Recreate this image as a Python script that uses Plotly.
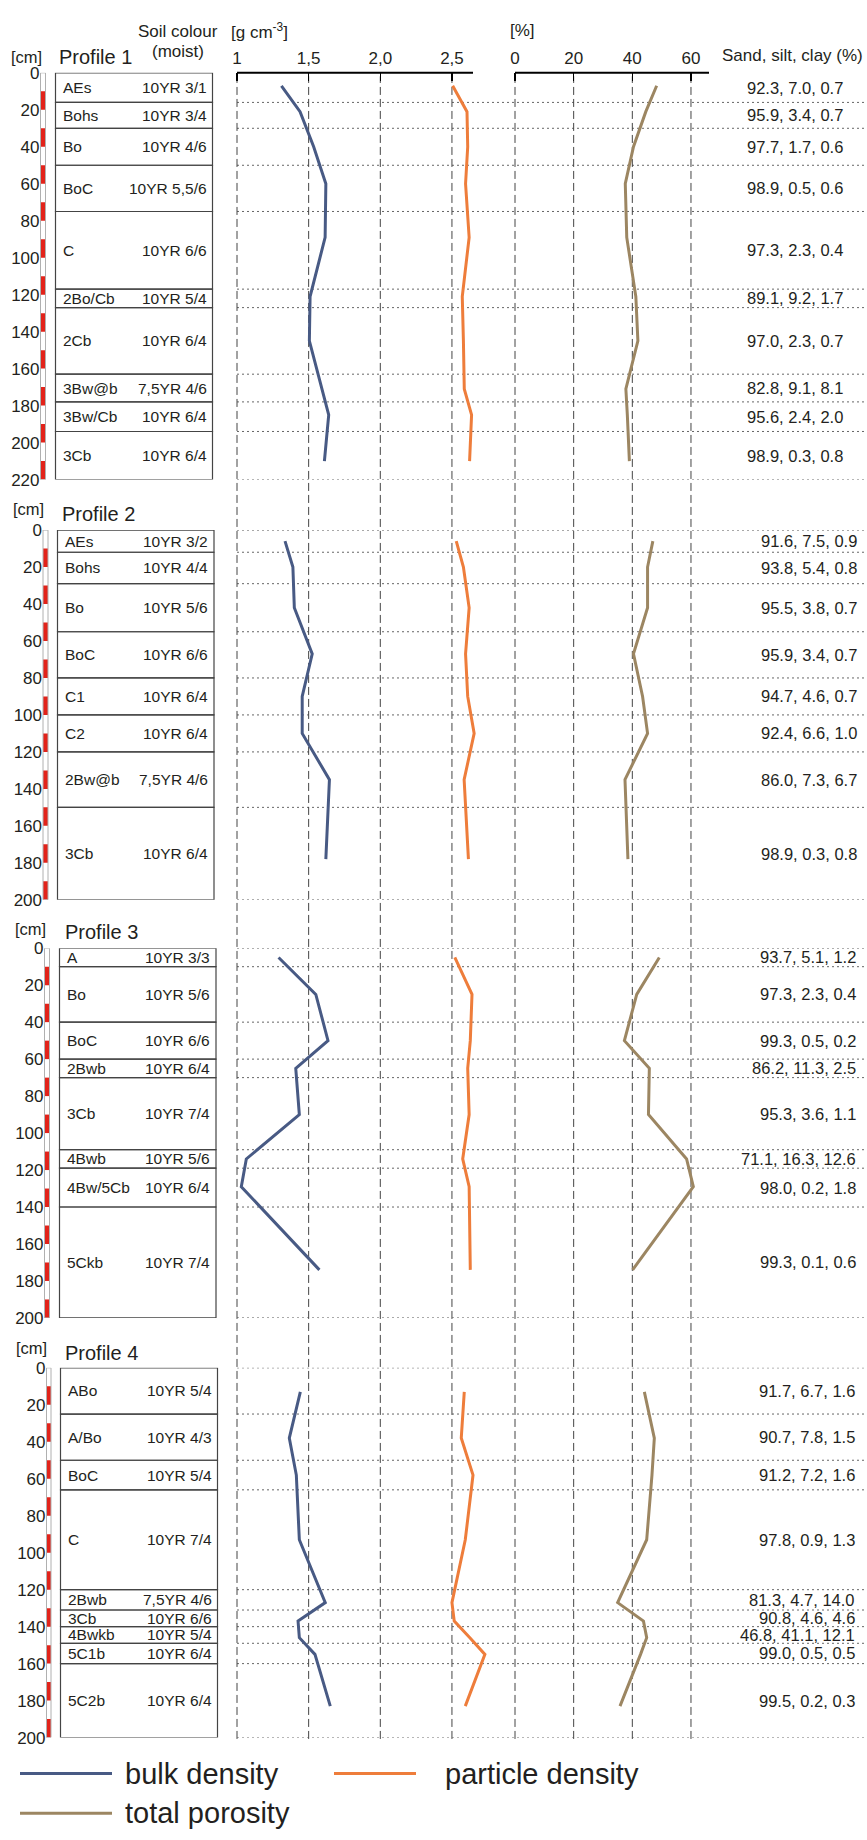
import plotly.graph_objects as go

W, H = 867, 1840
FONT = "Liberation Sans, Arial, sans-serif"
TXT = "#231f20"
C_BULK = "#485a84"
C_PART = "#ee7d3b"
C_POR = "#9c8662"

# ---------------- data ----------------
p1_bounds = [0, 16, 30, 50, 75, 117, 127, 163, 178, 194, 220]
p1_horizons = ["AEs", "Bohs", "Bo", "BoC", "C", "2Bo/Cb", "2Cb", "3Bw@b", "3Bw/Cb", "3Cb"]
p1_colours = ["10YR 3/1", "10YR 3/4", "10YR 4/6", "10YR 5,5/6", "10YR 6/6", "10YR 5/4",
              "10YR 6/4", "7,5YR 4/6", "10YR 6/4", "10YR 6/4"]
p1_texture = ["92.3, 7.0, 0.7", "95.9, 3.4, 0.7", "97.7, 1.7, 0.6", "98.9, 0.5, 0.6",
              "97.3, 2.3, 0.4", "89.1, 9.2, 1.7", "97.0, 2.3, 0.7", "82.8, 9.1, 8.1",
              "95.6, 2.4, 2.0", "98.9, 0.3, 0.8"]
p1_depth = [7, 21, 40, 60, 89, 121, 145, 171, 185, 210]
p1_bulk = [1.31, 1.44, 1.535, 1.62, 1.615, 1.51, 1.505, 1.59, 1.64, 1.61]
p1_particle = [2.505, 2.605, 2.61, 2.595, 2.62, 2.572, 2.58, 2.586, 2.637, 2.623]
p1_porosity = [48.3, 44.6, 40.4, 37.6, 38.1, 41.2, 41.9, 37.8, 38.3, 39.0]

p2_bounds = [0, 12, 29, 55, 80, 100, 120, 150, 200]
p2_horizons = ["AEs", "Bohs", "Bo", "BoC", "C1", "C2", "2Bw@b", "3Cb"]
p2_colours = ["10YR 3/2", "10YR 4/4", "10YR 5/6", "10YR 6/6", "10YR 6/4", "10YR 6/4",
              "7,5YR 4/6", "10YR 6/4"]
p2_texture = ["91.6, 7.5, 0.9", "93.8, 5.4, 0.8", "95.5, 3.8, 0.7", "95.9, 3.4, 0.7",
              "94.7, 4.6, 0.7", "92.4, 6.6, 1.0", "86.0, 7.3, 6.7", "98.9, 0.3, 0.8"]
p2_depth = [6, 20, 42, 67, 90, 110, 135, 178]
p2_bulk = [1.335, 1.39, 1.40, 1.525, 1.455, 1.455, 1.645, 1.62]
p2_particle = [2.53, 2.58, 2.62, 2.595, 2.61, 2.655, 2.585, 2.615]
p2_porosity = [47.0, 45.2, 45.2, 40.4, 43.5, 45.2, 37.5, 38.5]

p3_bounds = [0, 10, 40, 60, 70, 109, 119, 140, 200]
p3_horizons = ["A", "Bo", "BoC", "2Bwb", "3Cb", "4Bwb", "4Bw/5Cb", "5Ckb"]
p3_colours = ["10YR 3/3", "10YR 5/6", "10YR 6/6", "10YR 6/4", "10YR 7/4", "10YR 5/6",
              "10YR 6/4", "10YR 7/4"]
p3_texture = ["93.7, 5.1, 1.2", "97.3, 2.3, 0.4", "99.3, 0.5, 0.2", "86.2, 11.3, 2.5",
              "95.3, 3.6, 1.1", "71.1, 16.3, 12.6", "98.0, 0.2, 1.8", "99.3, 0.1, 0.6"]
p3_depth = [5, 25, 50, 65, 90, 114, 129, 174]
p3_bulk = [1.29, 1.55, 1.635, 1.41, 1.435, 1.065, 1.03, 1.575]
p3_particle = [2.52, 2.64, 2.628, 2.61, 2.62, 2.575, 2.62, 2.628]
p3_porosity = [49.2, 41.5, 37.3, 45.8, 45.5, 58.5, 60.8, 40.1]

p4_bounds = [0, 25, 50, 66, 120, 131, 140, 149, 160, 200]
p4_horizons = ["ABo", "A/Bo", "BoC", "C", "2Bwb", "3Cb", "4Bwkb", "5C1b", "5C2b"]
p4_colours = ["10YR 5/4", "10YR 4/3", "10YR 5/4", "10YR 7/4", "7,5YR 4/6", "10YR 6/6",
              "10YR 5/4", "10YR 6/4", "10YR 6/4"]
p4_texture = ["91.7, 6.7, 1.6", "90.7, 7.8, 1.5", "91.2, 7.2, 1.6", "97.8, 0.9, 1.3",
              "81.3, 4.7, 14.0", "90.8, 4.6, 4.6", "46.8, 41.1, 12.1", "99.0, 0.5, 0.5",
              "99.5, 0.2, 0.3"]
p4_depth = [13, 38, 58, 93, 127, 137, 146, 155, 183]
p4_bulk = [1.442, 1.365, 1.414, 1.435, 1.616, 1.426, 1.435, 1.544, 1.651]
p4_particle = [2.586, 2.565, 2.647, 2.593, 2.50, 2.516, 2.625, 2.73, 2.593]
p4_porosity = [44.1, 47.5, 46.7, 44.9, 35.0, 43.8, 44.9, 42.8, 35.8]

profile_names = ["Profile 1", "Profile 2", "Profile 3", "Profile 4"]
density_ticks = [1, 1.5, 2.0, 2.5]
density_ticktext = ["1", "1,5", "2,0", "2,5"]
porosity_ticks = [0, 20, 40, 60]
porosity_ticktext = ["0", "20", "40", "60"]
legend_names = ["bulk density", "particle density", "total porosity"]

profiles = [
    dict(bounds=p1_bounds, hz=p1_horizons, col=p1_colours, tex=p1_texture,
         depth=p1_depth, bulk=p1_bulk, part=p1_particle, por=p1_porosity),
    dict(bounds=p2_bounds, hz=p2_horizons, col=p2_colours, tex=p2_texture,
         depth=p2_depth, bulk=p2_bulk, part=p2_particle, por=p2_porosity),
    dict(bounds=p3_bounds, hz=p3_horizons, col=p3_colours, tex=p3_texture,
         depth=p3_depth, bulk=p3_bulk, part=p3_particle, por=p3_porosity),
    dict(bounds=p4_bounds, hz=p4_horizons, col=p4_colours, tex=p4_texture,
         depth=p4_depth, bulk=p4_bulk, part=p4_particle, por=p4_porosity),
]

# ---------------- layout geometry (pixels) ----------------
PXCM = 1.868
geo = [
    dict(top=64.5, ruler=(40.5, 45.5), box=(55.5, 212.5), tex_r=845, title=(57, 49), cm=48),
    dict(top=526.5, ruler=(43, 48), box=(57.5, 214), tex_r=859, title=(60, 510), cm=505),
    dict(top=949, ruler=(44.5, 49.5), box=(59.5, 216), tex_r=858, title=(62.5, 933), cm=930),
    dict(top=1373, ruler=(46.5, 51), box=(60.5, 217.5), tex_r=857, title=(62.5, 1358), cm=1353),
]


def px(x):
    return x / W


def py(y):
    return 1 - y / H


# density axis: 1 -> 237px, 143.3 px per unit
D0, DS = 237, 143.3
dens_dom = (228, 505)
dens_rng = [1 + (dens_dom[0] - D0) / DS, 1 + (dens_dom[1] - D0) / DS]
# porosity axis: 0 -> 515px, 2.933 px per unit
P0, PS = 515, 2.933
por_dom = (506, 735)
por_rng = [(por_dom[0] - P0) / PS, (por_dom[1] - P0) / PS]

fig = go.Figure()
shapes = []
annotations = []

layout = dict(
    width=W, height=H, margin=dict(l=0, r=0, t=0, b=0),
    paper_bgcolor="white", plot_bgcolor="rgba(0,0,0,0)",
    showlegend=False,
    font=dict(family=FONT, color=TXT, size=17),
)

layout["xaxis"] = dict(domain=[px(dens_dom[0]), px(dens_dom[1])], range=dens_rng,
                       anchor="y", side="top", showgrid=False, zeroline=False,
                       showline=False, ticks="inside", ticklen=8, tickwidth=1.5,
                       tickcolor="black", tickvals=density_ticks, ticktext=density_ticktext,
                       tickfont=dict(size=17, color=TXT), ticklabelstandoff=4)
layout["xaxis2"] = dict(domain=[px(por_dom[0]), px(por_dom[1])], range=por_rng,
                        anchor="y", side="top", showgrid=False, zeroline=False,
                        showline=False, ticks="inside", ticklen=8, tickwidth=1.5,
                        tickcolor="black", tickvals=porosity_ticks, ticktext=porosity_ticktext,
                        tickfont=dict(size=17, color=TXT), ticklabelstandoff=4)

for k, (p, g) in enumerate(zip(profiles, geo)):
    n = k + 1
    yname = "yaxis" if n == 1 else f"yaxis{n}"
    yref = "y" if n == 1 else f"y{n}"
    dmax = p["bounds"][-1]
    top = g["top"]
    bot = top + dmax * PXCM
    layout[yname] = dict(domain=[py(bot), py(top)], range=[dmax, 0], autorange=False,
                         anchor="free", position=px(g["ruler"][0] - 1),
                         showgrid=False, zeroline=False, showline=False, ticks="",
                         tickvals=list(range(0, dmax + 1, 20)),
                         tickfont=dict(size=17, color=TXT))

    # traces
    fig.add_trace(go.Scatter(x=p["bulk"], y=p["depth"], mode="lines", xaxis="x", yaxis=yref,
                             line=dict(color=C_BULK, width=3), name=legend_names[0]))
    fig.add_trace(go.Scatter(x=p["part"], y=p["depth"], mode="lines", xaxis="x", yaxis=yref,
                             line=dict(color=C_PART, width=3), name=legend_names[1]))
    fig.add_trace(go.Scatter(x=p["por"], y=p["depth"], mode="lines", xaxis="x2", yaxis=yref,
                             line=dict(color=C_POR, width=3), name=legend_names[2]))

    # ruler
    r0, r1 = g["ruler"]
    for s in range(10, dmax, 20):
        shapes.append(dict(type="rect", xref="paper", yref=yref, x0=px(r0), x1=px(r1),
                           y0=s, y1=s + 10, fillcolor="#e2231a", line=dict(width=0)))
    shapes.append(dict(type="rect", xref="paper", yref=yref, x0=px(r0), x1=px(r1),
                       y0=0, y1=dmax, line=dict(color="#b0b0b0", width=1)))

    # horizon boxes + labels + texture
    b0, b1 = g["box"]
    bnd = p["bounds"]
    for i in range(len(p["hz"])):
        shapes.append(dict(type="rect", xref="paper", yref=yref, x0=px(b0), x1=px(b1),
                           y0=bnd[i], y1=bnd[i + 1], line=dict(color="#444444", width=1.2)))
        mid = (bnd[i] + bnd[i + 1]) / 2
        annotations.append(dict(text=p["hz"][i], xref="paper", yref=yref, x=px(b0 + 5), y=mid,
                                xanchor="left", yanchor="middle", showarrow=False,
                                font=dict(size=15.5, color=TXT)))
        annotations.append(dict(text=p["col"][i], xref="paper", yref=yref, x=px(b1 - 4), y=mid,
                                xanchor="right", yanchor="middle", showarrow=False,
                                font=dict(size=15.5, color=TXT)))
        annotations.append(dict(text=p["tex"][i], xref="paper", yref=yref, x=px(g["tex_r"]), y=mid,
                                xanchor="right", yanchor="middle", showarrow=False,
                                font=dict(size=16.5, color=TXT)))

    # dotted horizon lines across the plot area
    for i, b in enumerate(bnd):
        if n == 1 and i == 0:
            continue
        shapes.append(dict(type="line", xref="paper", yref=yref, x0=px(D0), x1=1,
                           y0=b, y1=b, layer="below",
                           line=dict(color="#666666", width=1, dash="2px,3px")))

    # titles
    annotations.append(dict(text=profile_names[k], xref="paper", yref="paper",
                            x=px(g["title"][0]), y=py(g["title"][1]), xanchor="left",
                            yanchor="middle", showarrow=False, font=dict(size=20, color=TXT)))
    annotations.append(dict(text="[cm]", xref="paper", yref="paper",
                            x=px(r1 - 2), y=py(g["cm"]), xanchor="right",
                            yanchor="middle", showarrow=False, font=dict(size=16.5, color=TXT)))

# vertical dashed grid lines spanning all profiles
for v in density_ticks:
    shapes.append(dict(type="line", xref="x", yref="paper", x0=v, x1=v,
                       y0=py(1748), y1=py(68), layer="below",
                       line=dict(color="#444444", width=1, dash="8px,4px")))
for v in porosity_ticks:
    shapes.append(dict(type="line", xref="x2", yref="paper", x0=v, x1=v,
                       y0=py(1748), y1=py(68), layer="below",
                       line=dict(color="#444444", width=1, dash="8px,4px")))

# axis lines
shapes.append(dict(type="line", xref="x", yref="paper", x0=1, x1=1 + (473 - D0) / DS,
                   y0=py(64.5), y1=py(64.5), line=dict(color="black", width=2)))
shapes.append(dict(type="line", xref="x2", yref="paper", x0=0, x1=(709 - P0) / PS,
                   y0=py(64.5), y1=py(64.5), line=dict(color="black", width=2)))

# header texts
annotations += [
    dict(text="[g cm<sup>-3</sup>]", xref="paper", yref="paper", x=px(229), y=py(22),
         xanchor="left", yanchor="middle", showarrow=False, font=dict(size=17, color=TXT)),
    dict(text="[%]", xref="paper", yref="paper", x=px(508), y=py(22),
         xanchor="left", yanchor="middle", showarrow=False, font=dict(size=17, color=TXT)),
    dict(text="Soil colour", xref="paper", yref="paper", x=px(178), y=py(22.5),
         xanchor="center", yanchor="middle", showarrow=False, font=dict(size=17, color=TXT)),
    dict(text="(moist)", xref="paper", yref="paper", x=px(178), y=py(43),
         xanchor="center", yanchor="middle", showarrow=False, font=dict(size=17, color=TXT)),
    dict(text="Sand, silt, clay (%)", xref="paper", yref="paper", x=px(865), y=py(47),
         xanchor="right", yanchor="middle", showarrow=False, font=dict(size=17, color=TXT)),
]

# legend
leg = [(20, 112, 1783, C_BULK, 123), (334, 416, 1783, C_PART, 443), (20, 112, 1823, C_POR, 123)]
for (lx0, lx1, ly, c, tx), name in zip(leg, legend_names):
    shapes.append(dict(type="line", xref="paper", yref="paper", x0=px(lx0), x1=px(lx1),
                       y0=py(ly), y1=py(ly), line=dict(color=c, width=3)))
    annotations.append(dict(text=name, xref="paper", yref="paper", x=px(tx), y=py(ly),
                            xanchor="left", yanchor="middle", showarrow=False,
                            font=dict(size=29, color=TXT)))

layout["shapes"] = shapes
layout["annotations"] = annotations
fig.update_layout(**layout)
fig.write_html(
    "out.html",
    config={"displayModeBar": False, "staticPlot": True},
    post_script="document.documentElement.style.margin='0';"
                "document.body.style.margin='0';document.body.style.padding='0';"
                "document.body.style.overflow='hidden';",
)
